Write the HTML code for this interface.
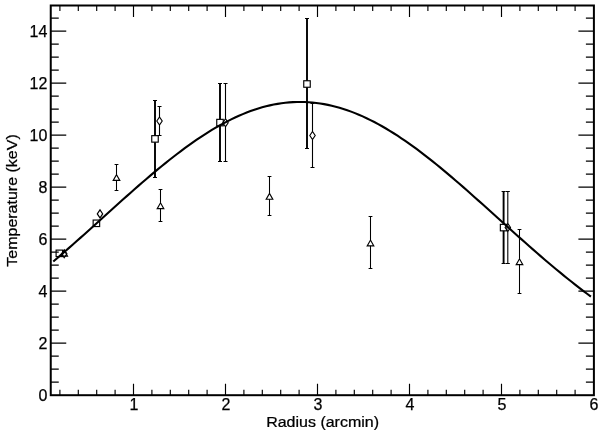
<!DOCTYPE html>
<html><head><meta charset="utf-8"><title>Temperature profile</title>
<style>html,body{margin:0;padding:0;background:#fff}svg{display:block}text{stroke:#000;stroke-width:0.25px;font-family:"Liberation Sans",Arial,Helvetica,sans-serif;fill:#000}</style>
</head><body>
<svg width="600" height="433" viewBox="0 0 600 433">
<rect width="600" height="433" fill="#fff"/>
<path d="M155.00,100.50V135.65M155.00,142.15V177.50" stroke="#000" stroke-width="1.9" fill="none"/><path d="M153.00,100.50h4.0M153.00,177.50h4.0" stroke="#000" stroke-width="1.1" fill="none"/>
<path d="M220.00,83.50V119.35M220.00,125.85V161.50" stroke="#000" stroke-width="1.9" fill="none"/><path d="M218.00,83.50h4.0M218.00,161.50h4.0" stroke="#000" stroke-width="1.1" fill="none"/>
<path d="M307.00,18.50V80.75M307.00,87.25V148.50" stroke="#000" stroke-width="1.9" fill="none"/><path d="M305.00,18.50h4.0M305.00,148.50h4.0" stroke="#000" stroke-width="1.1" fill="none"/>
<path d="M503.60,191.50V224.35M503.60,230.85V263.50" stroke="#000" stroke-width="1.9" fill="none"/><path d="M501.60,191.50h4.0M501.60,263.50h4.0" stroke="#000" stroke-width="1.1" fill="none"/>
<path d="M159.50,106.50V117.00M159.50,125.00V135.50" stroke="#000" stroke-width="1.1" fill="none"/><path d="M157.50,106.50h4.0M157.50,135.50h4.0" stroke="#000" stroke-width="1.1" fill="none"/>
<path d="M225.50,83.50V118.80M225.50,126.80V161.50" stroke="#000" stroke-width="1.1" fill="none"/><path d="M223.50,83.50h4.0M223.50,161.50h4.0" stroke="#000" stroke-width="1.1" fill="none"/>
<path d="M312.50,103.50V131.50M312.50,139.50V167.50" stroke="#000" stroke-width="1.1" fill="none"/><path d="M310.50,103.50h4.0M310.50,167.50h4.0" stroke="#000" stroke-width="1.1" fill="none"/>
<path d="M507.80,191.50V223.50M507.80,231.50V263.50" stroke="#000" stroke-width="1.1" fill="none"/><path d="M505.80,191.50h4.0M505.80,263.50h4.0" stroke="#000" stroke-width="1.1" fill="none"/>
<path d="M116.50,164.50V174.60M116.50,180.40V190.50" stroke="#000" stroke-width="1.05" fill="none"/><path d="M114.60,164.50h3.8M114.60,190.50h3.8" stroke="#000" stroke-width="1.1" fill="none"/>
<path d="M160.50,189.50V202.80M160.50,208.60V221.50" stroke="#000" stroke-width="1.05" fill="none"/><path d="M158.60,189.50h3.8M158.60,221.50h3.8" stroke="#000" stroke-width="1.1" fill="none"/>
<path d="M269.50,176.50V193.40M269.50,199.20V215.50" stroke="#000" stroke-width="1.05" fill="none"/><path d="M267.60,176.50h3.8M267.60,215.50h3.8" stroke="#000" stroke-width="1.1" fill="none"/>
<path d="M370.50,216.50V240.05M370.50,245.85V268.50" stroke="#000" stroke-width="1.05" fill="none"/><path d="M368.60,216.50h3.8M368.60,268.50h3.8" stroke="#000" stroke-width="1.1" fill="none"/>
<path d="M519.50,229.50V258.80M519.50,264.60V293.50" stroke="#000" stroke-width="1.05" fill="none"/><path d="M517.60,229.50h3.8M517.60,293.50h3.8" stroke="#000" stroke-width="1.1" fill="none"/>
<rect x="56.10" y="250.10" width="6.5" height="6.5" fill="none" stroke="#000" stroke-width="1.15"/>
<rect x="93.15" y="220.05" width="6.5" height="6.5" fill="none" stroke="#000" stroke-width="1.15"/>
<rect x="151.75" y="135.65" width="6.5" height="6.5" fill="none" stroke="#000" stroke-width="1.15"/>
<rect x="216.75" y="119.35" width="6.5" height="6.5" fill="none" stroke="#000" stroke-width="1.15"/>
<rect x="303.75" y="80.75" width="6.5" height="6.5" fill="none" stroke="#000" stroke-width="1.15"/>
<rect x="500.35" y="224.35" width="6.5" height="6.5" fill="none" stroke="#000" stroke-width="1.15"/>
<path d="M61.50,253.70L64.20,249.70L66.90,253.70L64.20,257.70Z" fill="none" stroke="#000" stroke-width="1.15"/>
<path d="M97.30,213.90L100.00,209.90L102.70,213.90L100.00,217.90Z" fill="none" stroke="#000" stroke-width="1.15"/>
<path d="M156.80,121.00L159.50,117.00L162.20,121.00L159.50,125.00Z" fill="none" stroke="#000" stroke-width="1.15"/>
<path d="M222.80,122.80L225.50,118.80L228.20,122.80L225.50,126.80Z" fill="none" stroke="#000" stroke-width="1.15"/>
<path d="M309.80,135.50L312.50,131.50L315.20,135.50L312.50,139.50Z" fill="none" stroke="#000" stroke-width="1.15"/>
<path d="M505.10,227.50L507.80,223.50L510.50,227.50L507.80,231.50Z" fill="none" stroke="#000" stroke-width="1.15"/>
<path d="M60.90,256.10L67.50,256.10L64.20,250.30Z" fill="none" stroke="#000" stroke-width="1.15"/>
<path d="M113.20,180.40L119.80,180.40L116.50,174.60Z" fill="none" stroke="#000" stroke-width="1.15"/>
<path d="M157.20,208.60L163.80,208.60L160.50,202.80Z" fill="none" stroke="#000" stroke-width="1.15"/>
<path d="M266.20,199.20L272.80,199.20L269.50,193.40Z" fill="none" stroke="#000" stroke-width="1.15"/>
<path d="M367.20,245.85L373.80,245.85L370.50,240.05Z" fill="none" stroke="#000" stroke-width="1.15"/>
<path d="M516.20,264.60L522.80,264.60L519.50,258.80Z" fill="none" stroke="#000" stroke-width="1.15"/>
<path d="M53.28,261.51 L57.14,258.21 L61.01,254.88 L64.88,251.52 L68.75,248.14 L72.62,244.73 L76.48,241.31 L80.35,237.87 L84.22,234.41 L88.09,230.95 L91.96,227.47 L95.82,223.98 L99.69,220.49 L103.56,217.00 L107.43,213.51 L111.30,210.02 L115.16,206.53 L119.03,203.06 L122.90,199.59 L126.77,196.14 L130.64,192.71 L134.50,189.30 L138.37,185.91 L142.24,182.55 L146.11,179.22 L149.98,175.91 L153.84,172.65 L157.71,169.42 L161.58,166.24 L165.45,163.09 L169.32,160.00 L173.18,156.96 L177.05,153.97 L180.92,151.04 L184.79,148.16 L188.65,145.35 L192.52,142.61 L196.39,139.93 L200.26,137.33 L204.13,134.80 L207.99,132.34 L211.86,129.97 L215.73,127.68 L219.60,125.47 L223.47,123.34 L227.33,121.31 L231.20,119.37 L235.07,117.52 L238.94,115.76 L242.81,114.11 L246.67,112.55 L250.54,111.10 L254.41,109.74 L258.28,108.49 L262.15,107.35 L266.01,106.31 L269.88,105.39 L273.75,104.57 L277.62,103.86 L281.49,103.26 L285.35,102.77 L289.22,102.40 L293.09,102.14 L296.96,101.99 L300.83,101.95 L304.69,102.03 L308.56,102.22 L312.43,102.52 L316.30,102.94 L320.17,103.47 L324.03,104.11 L327.90,104.86 L331.77,105.72 L335.64,106.68 L339.51,107.76 L343.37,108.94 L347.24,110.23 L351.11,111.62 L354.98,113.11 L358.85,114.71 L362.71,116.40 L366.58,118.19 L370.45,120.07 L374.32,122.05 L378.19,124.12 L382.05,126.27 L385.92,128.51 L389.79,130.84 L393.66,133.24 L397.53,135.72 L401.39,138.28 L405.26,140.91 L409.13,143.62 L413.00,146.39 L416.87,149.22 L420.73,152.11 L424.60,155.07 L428.47,158.08 L432.34,161.14 L436.21,164.25 L440.07,167.41 L443.94,170.61 L447.81,173.85 L451.68,177.13 L455.55,180.44 L459.41,183.79 L463.28,187.16 L467.15,190.56 L471.02,193.98 L474.88,197.42 L478.75,200.87 L482.62,204.34 L486.49,207.82 L490.36,211.31 L494.22,214.80 L498.09,218.29 L501.96,221.78 L505.83,225.27 L509.70,228.75 L513.56,232.23 L517.43,235.69 L521.30,239.14 L525.17,242.58 L529.04,245.99 L532.90,249.39 L536.77,252.76 L540.64,256.11 L544.51,259.43 L548.38,262.73 L552.24,265.99 L556.11,269.22 L559.98,272.42 L563.85,275.58 L567.72,278.71 L571.58,281.80 L575.45,284.85 L579.32,287.86 L583.19,290.82 L587.06,293.75 L590.92,296.63" fill="none" stroke="#000" stroke-width="2.1"/>
<path d="M59.90,395.2v-5.5M59.90,5.5v5.5M78.30,395.2v-5.5M78.30,5.5v5.5M96.70,395.2v-5.5M96.70,5.5v5.5M115.10,395.2v-5.5M115.10,5.5v5.5M133.50,395.2v-11.5M133.50,5.5v11.5M151.90,395.2v-5.5M151.90,5.5v5.5M170.30,395.2v-5.5M170.30,5.5v5.5M188.70,395.2v-5.5M188.70,5.5v5.5M207.10,395.2v-5.5M207.10,5.5v5.5M225.50,395.2v-11.5M225.50,5.5v11.5M243.90,395.2v-5.5M243.90,5.5v5.5M262.30,395.2v-5.5M262.30,5.5v5.5M280.70,395.2v-5.5M280.70,5.5v5.5M299.10,395.2v-5.5M299.10,5.5v5.5M317.50,395.2v-11.5M317.50,5.5v11.5M335.90,395.2v-5.5M335.90,5.5v5.5M354.30,395.2v-5.5M354.30,5.5v5.5M372.70,395.2v-5.5M372.70,5.5v5.5M391.10,395.2v-5.5M391.10,5.5v5.5M409.50,395.2v-11.5M409.50,5.5v11.5M427.90,395.2v-5.5M427.90,5.5v5.5M446.30,395.2v-5.5M446.30,5.5v5.5M464.70,395.2v-5.5M464.70,5.5v5.5M483.10,395.2v-5.5M483.10,5.5v5.5M501.50,395.2v-11.5M501.50,5.5v11.5M519.90,395.2v-5.5M519.90,5.5v5.5M538.30,395.2v-5.5M538.30,5.5v5.5M556.70,395.2v-5.5M556.70,5.5v5.5M575.10,395.2v-5.5M575.10,5.5v5.5M50.75,382.10h8M593.9,382.10h-8M50.75,369.10h8M593.9,369.10h-8M50.75,356.10h8M593.9,356.10h-8M50.75,343.10h15.5M593.9,343.10h-15.5M50.75,330.10h8M593.9,330.10h-8M50.75,317.10h8M593.9,317.10h-8M50.75,304.10h8M593.9,304.10h-8M50.75,291.10h15.5M593.9,291.10h-15.5M50.75,278.10h8M593.9,278.10h-8M50.75,265.10h8M593.9,265.10h-8M50.75,252.10h8M593.9,252.10h-8M50.75,239.10h15.5M593.9,239.10h-15.5M50.75,226.10h8M593.9,226.10h-8M50.75,213.10h8M593.9,213.10h-8M50.75,200.10h8M593.9,200.10h-8M50.75,187.10h15.5M593.9,187.10h-15.5M50.75,174.10h8M593.9,174.10h-8M50.75,161.10h8M593.9,161.10h-8M50.75,148.10h8M593.9,148.10h-8M50.75,135.10h15.5M593.9,135.10h-15.5M50.75,122.10h8M593.9,122.10h-8M50.75,109.10h8M593.9,109.10h-8M50.75,96.10h8M593.9,96.10h-8M50.75,83.10h15.5M593.9,83.10h-15.5M50.75,70.10h8M593.9,70.10h-8M50.75,57.10h8M593.9,57.10h-8M50.75,44.10h8M593.9,44.10h-8M50.75,31.10h15.5M593.9,31.10h-15.5M50.75,18.10h8M593.9,18.10h-8" stroke="#000" stroke-width="1.15" fill="none"/>
<rect x="50.75" y="5.5" width="543.15" height="389.7" fill="none" stroke="#000" stroke-width="2"/>
<text x="134.00" y="410.3" text-anchor="middle" font-size="16.0">1</text>
<text x="226.00" y="410.3" text-anchor="middle" font-size="16.0">2</text>
<text x="318.00" y="410.3" text-anchor="middle" font-size="16.0">3</text>
<text x="410.00" y="410.3" text-anchor="middle" font-size="16.0">4</text>
<text x="502.00" y="410.3" text-anchor="middle" font-size="16.0">5</text>
<text x="594.00" y="410.3" text-anchor="middle" font-size="16.0">6</text>
<text x="47.3" y="401.30" text-anchor="end" font-size="16.0">0</text>
<text x="47.3" y="349.30" text-anchor="end" font-size="16.0">2</text>
<text x="47.3" y="297.30" text-anchor="end" font-size="16.0">4</text>
<text x="47.3" y="245.30" text-anchor="end" font-size="16.0">6</text>
<text x="47.3" y="193.30" text-anchor="end" font-size="16.0">8</text>
<text x="47.3" y="141.30" text-anchor="end" font-size="16.0">10</text>
<text x="47.3" y="89.30" text-anchor="end" font-size="16.0">12</text>
<text x="47.3" y="37.30" text-anchor="end" font-size="16.0">14</text>
<text transform="translate(322.6,427.1) scale(1.067,1)" text-anchor="middle" font-size="15">Radius (arcmin)</text>
<text transform="translate(17.3,200.5) rotate(-90) scale(1.067,1)" text-anchor="middle" font-size="15">Temperature (keV)</text>
</svg>
</body></html>
